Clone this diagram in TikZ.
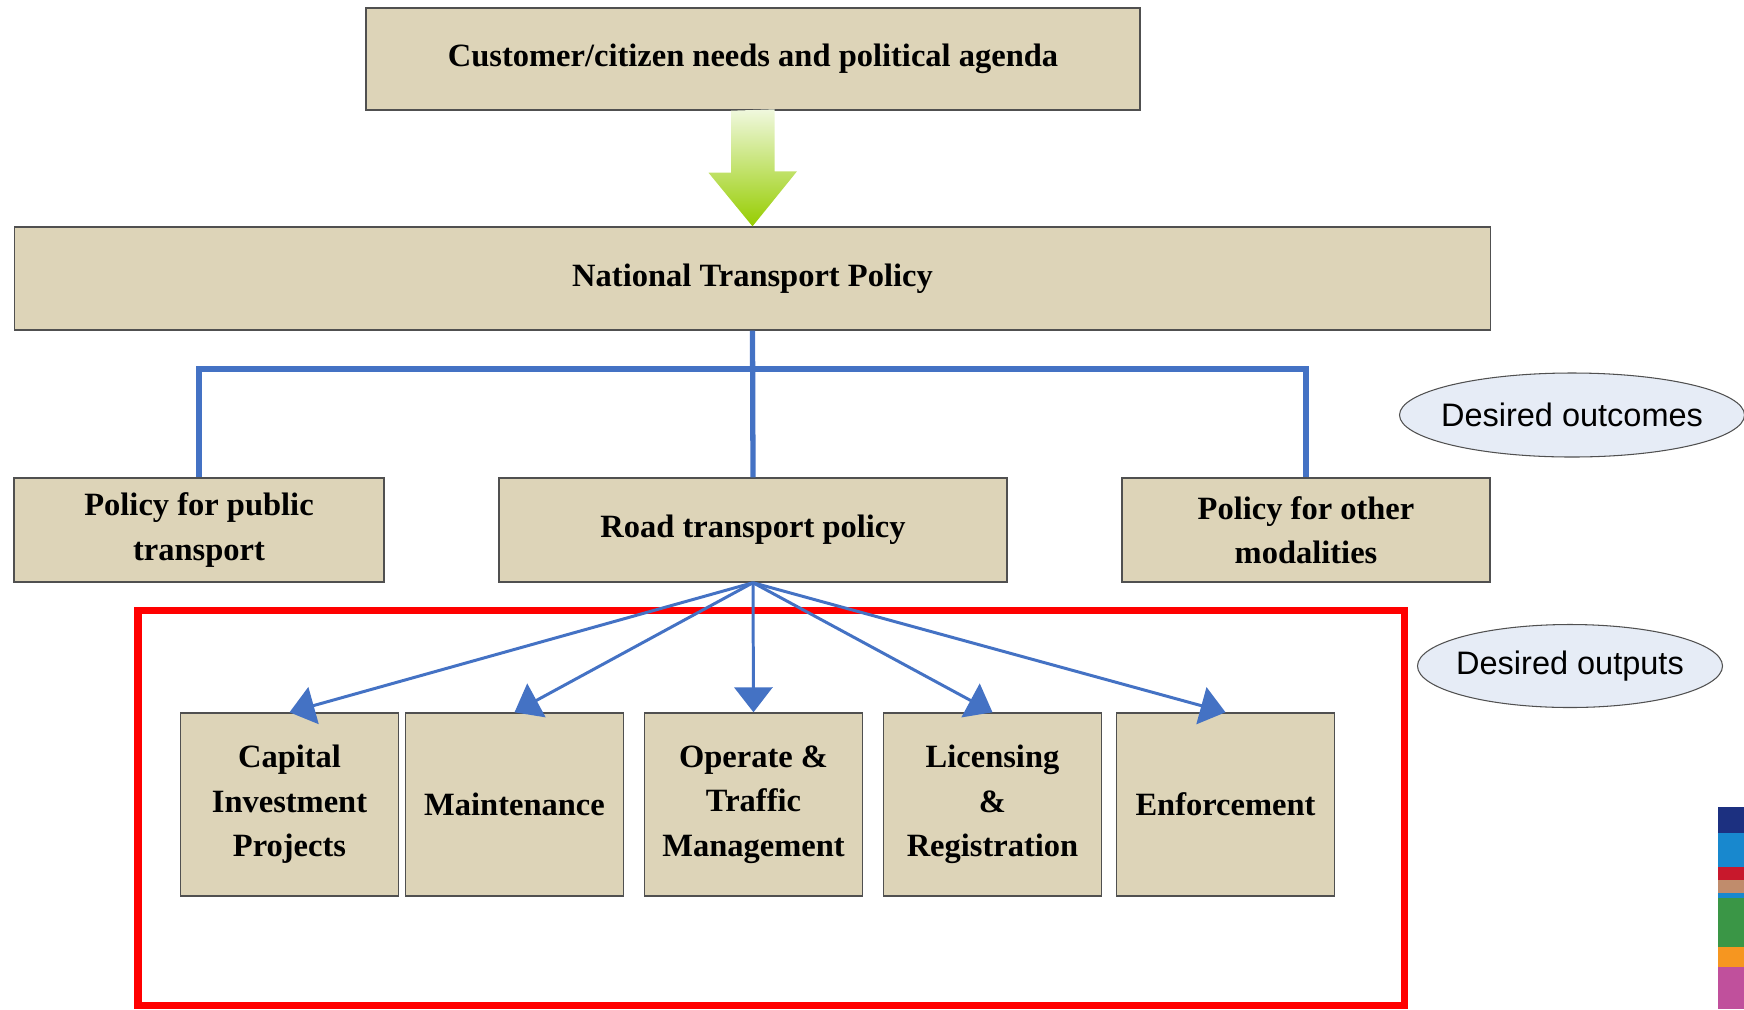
\documentclass[tikz,border=0pt]{standalone}
\usepackage{fontspec}
\setmainfont{Liberation Serif}
\newfontfamily\arialfont{Liberation Sans}
\usetikzlibrary{arrows.meta,shapes.geometric}
\newdimen\pxu
\pxu=0.02cm
\definecolor{boxtan}{RGB}{221,212,184}
\definecolor{boxline}{RGB}{80,80,80}
\definecolor{linkblue}{RGB}{68,114,196}
\definecolor{ovalfill}{RGB}{230,236,246}
\definecolor{arrowtop}{RGB}{240,248,222}
\definecolor{arrowbot}{RGB}{150,205,0}
\definecolor{sdgnavy}{RGB}{28,48,128}
\definecolor{sdgblue}{RGB}{24,136,206}
\definecolor{sdgred}{RGB}{200,24,44}
\definecolor{sdgtan}{RGB}{192,140,108}
\definecolor{sdggreen}{RGB}{58,150,70}
\definecolor{sdgorange}{RGB}{246,150,32}
\definecolor{sdgpink}{RGB}{192,80,156}

\begin{document}
\begin{tikzpicture}[x=0.02cm,y=-0.02cm,
    policy/.style={draw=boxline,line width=0.8pt,fill=boxtan,align=center,inner sep=0pt,
        font=\fontsize{18.5}{25.3}\selectfont\bfseries},
    task/.style={policy,minimum width=218\pxu,minimum height=183\pxu},
    oval/.style={ellipse,draw=boxline,line width=0.6pt,fill=ovalfill,inner xsep=-15\pxu,inner ysep=0pt,
        font=\arialfont\fontsize{18.5}{22}\selectfont},
    bracket/.style={linkblue,line width=3pt},
    link/.style={linkblue,line width=1.7pt,-{Triangle[length=0.5cm,width=0.76cm]}}]

    \useasboundingbox (0,0) rectangle (1744,1009);

    % policy levels
    \node[policy,minimum width=774\pxu,minimum height=102\pxu] (needs) at (753,59) {Customer/citizen needs and political agenda};
    \node[policy,minimum width=1476\pxu,minimum height=103\pxu] (ntp) at (752.5,278.5) {National Transport Policy};
    \node[policy,minimum width=370\pxu,minimum height=104\pxu] (public) at (199,530) {Policy for public\\transport};
    \node[policy,minimum width=508\pxu,minimum height=104\pxu] (road) at (753,530) {Road transport policy};
    \node[policy,minimum width=368\pxu,minimum height=104\pxu] (other) at (1306,530) {Policy for other\\modalities};

    % green arrow
    \shade[top color=arrowtop,bottom color=arrowbot] (needs.south) ++(-22,0) -- ++(0,62) -- ++(-22.5,0) -- (ntp.north) -- ++(44.5,-55) -- ++(-22.5,0) -- ++(0,-62) -- cycle;

    % outcomes bracket
    \coordinate (split) at (753,369);
    \draw[bracket] (ntp.south) -- (road.north);
    \draw[bracket] (public.north) |- (split) -| (other.north);

    % outputs frame
    \draw[red,line width=4pt] (138,610) rectangle (1404,1005);

    \node[task] (capital) at (289.5,804.5) {Capital\\Investment\\Projects};
    \node[task] (maint) at (514.5,804.5) {Maintenance};
    \node[task] (operate) at (753.5,804.5) {Operate \&\\Traffic\\Management};
    \node[task] (licence) at (992.5,804.5) {Licensing\\\&\\Registration};
    \node[task] (enforce) at (1225.5,804.5) {Enforcement};

    \foreach \t in {capital,maint,operate,licence,enforce}
        \draw[link] (road.south) -- (\t.north);

    \node[oval,minimum width=345\pxu,minimum height=84\pxu] (outcomes) at (1572,415) {Desired outcomes};
    \node[oval,minimum width=305\pxu,minimum height=83\pxu] (outputs) at (1570,666) {Desired outputs};

    % colour strip at the edge
    \foreach \ya/\yb/\c in {807/833/sdgnavy,833/867/sdgblue,867/880/sdgred,880/893/sdgtan,893/898/sdgblue,898/947/sdggreen,947/967/sdgorange,967/1009/sdgpink}
        \fill[\c] (1718,\ya) rectangle (1744,\yb);
\end{tikzpicture}
\end{document}
